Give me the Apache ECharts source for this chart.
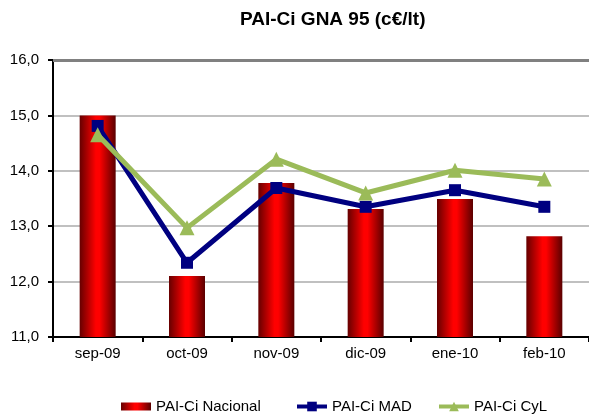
<!DOCTYPE html>
<html>
<head>
<meta charset="utf-8">
<script src="https://cdn.jsdelivr.net/npm/echarts@6/dist/echarts.min.js"></script>
<style>
    html, body { margin: 0; padding: 0; background: #fff; }
    #chart { width: 589px; height: 414px; }
</style>
</head>
<body>
<div id="chart"></div>
<script>
var categories = ['sep-09', 'oct-09', 'nov-09', 'dic-09', 'ene-10', 'feb-10'];
var nacional = [15.0, 12.10, 13.78, 13.31, 13.49, 12.82];
var mad = [14.81, 12.34, 13.69, 13.35, 13.65, 13.35];
var cyl = [14.65, 12.97, 14.21, 13.60, 14.01, 13.85];
var seriesNames = ['PAI-Ci Nacional', 'PAI-Ci MAD', 'PAI-Ci CyL'];

var font = '"Liberation Sans", Arial, sans-serif';

function legendAt(name, x, icon, h) {
    var item = { name: name };
    if (icon) item.icon = icon;
    return {
        data: [item],
        left: x,
        top: 394,
        itemWidth: 30,
        itemHeight: h,
        itemGap: 0,
        selectedMode: false,
        lineStyle: { width: 4 },
        textStyle: { fontFamily: font, fontSize: 15, color: '#000', padding: [0, 0, 0, 0] }
    };
}

// barras con degradado horizontal oscuro-rojo-oscuro
var barColor = new echarts.graphic.LinearGradient(0, 0, 1, 0, [
    { offset: 0, color: '#660000' },
    { offset: 0.45, color: '#ff0000' },
    { offset: 0.55, color: '#ff0000' },
    { offset: 1, color: '#5a0000' }
]);

var option = {
    animation: false,
    backgroundColor: '#fff',
    title: {
        text: 'PAI-Ci GNA 95 (c€/lt)',
        left: 235,
        top: 5,
        textStyle: { fontFamily: font, fontSize: 19, fontWeight: 'bold', color: '#000' }
    },
    legend: [
        legendAt(seriesNames[0], 116, 'rect', 8),
        legendAt(seriesNames[1], 290, null, 12),
        legendAt(seriesNames[2], 432, null, 12)
    ],
    grid: {
        left: 53,
        top: 60,
        width: 545,
        height: 277,
        containLabel: false
    },
    xAxis: {
        type: 'category',
        data: categories,
        axisLine: { lineStyle: { color: '#000', width: 2 } },
        axisTick: { show: true, length: 5, lineStyle: { color: '#000', width: 2 } },
        axisLabel: { fontFamily: font, fontSize: 15, color: '#000', margin: 9 }
    },
    yAxis: {
        type: 'value',
        min: 11,
        max: 16,
        interval: 1,
        axisLine: { show: true, lineStyle: { color: '#000', width: 2 } },
        axisTick: { show: true, length: 5, lineStyle: { color: '#000', width: 2 } },
        axisLabel: {
            fontFamily: font, fontSize: 15, color: '#000', margin: 14,
            formatter: function (v) { return v.toFixed(1).replace('.', ','); }
        },
        splitLine: { show: true, lineStyle: { color: '#c0c0c0', width: 2 } }
    },
    series: [{
        name: seriesNames[0],
        type: 'bar',
        data: nacional,
        barWidth: 36,
        itemStyle: { color: barColor },
        markLine: {
            silent: true,
            symbol: 'none',
            label: { show: false },
            lineStyle: { color: '#808080', width: 3, type: 'solid' },
            data: [{ yAxis: 16 }]
        }
    }, {
        name: seriesNames[1],
        type: 'line',
        data: mad,
        symbol: 'rect',
        symbolSize: 12,
        lineStyle: { color: '#000080', width: 5 },
        itemStyle: { color: '#000080' }
    }, {
        name: seriesNames[2],
        type: 'line',
        data: cyl,
        symbol: 'triangle',
        symbolSize: 15,
        lineStyle: { color: '#9bbb59', width: 5 },
        itemStyle: { color: '#9bbb59' }
    }]
};

var chart = echarts.init(document.getElementById('chart'));
chart.setOption(option);
</script>
</body>
</html>
